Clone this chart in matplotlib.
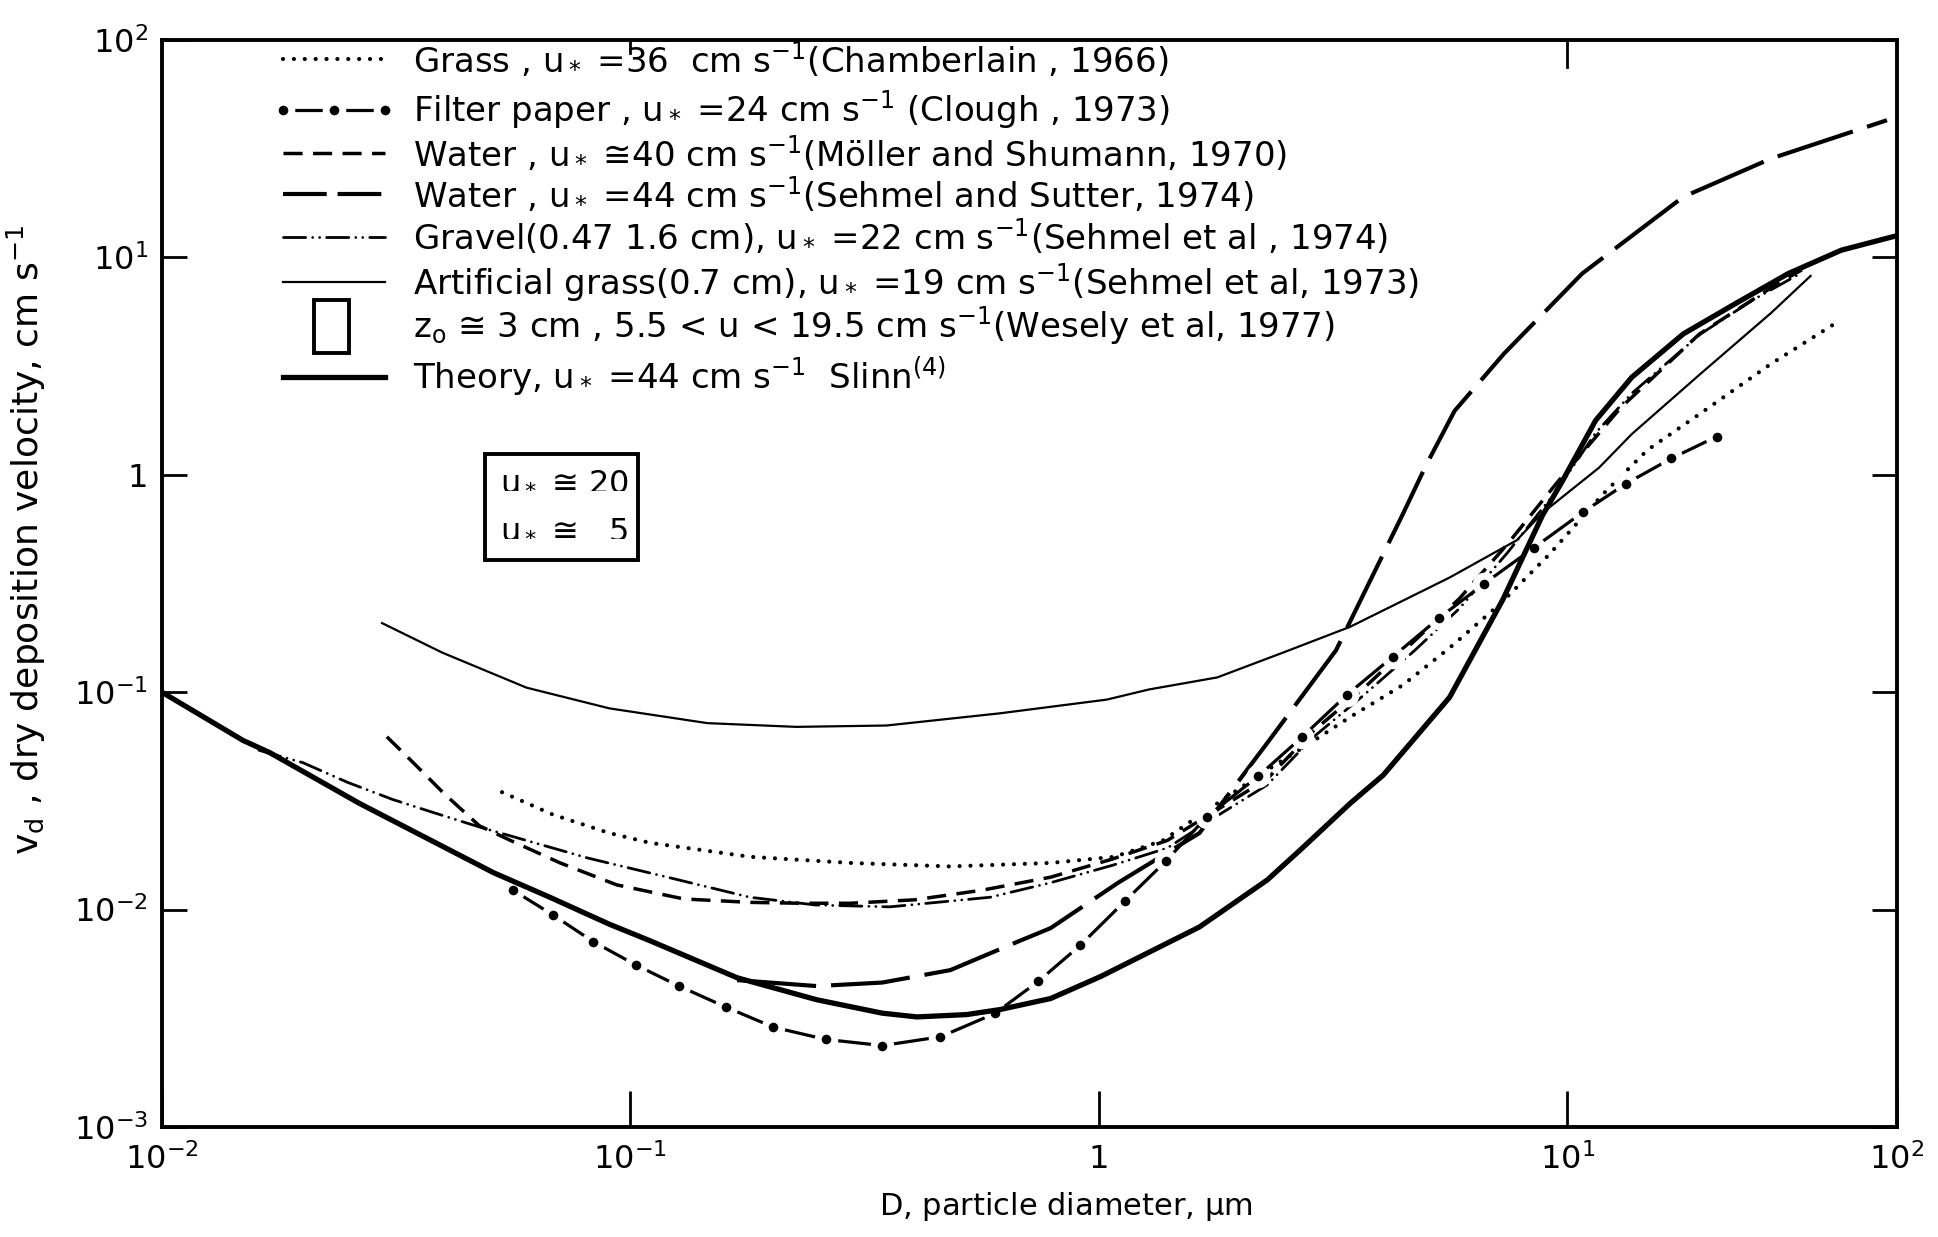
import numpy as np
import matplotlib
matplotlib.use('Agg')
import matplotlib.pyplot as plt
from matplotlib.patches import Rectangle
from matplotlib.ticker import FixedLocator, NullLocator
from matplotlib.transforms import blended_transform_factory

plt.rcParams['font.family'] = ['DejaVu Sans']
plt.rcParams['mathtext.default'] = 'regular'

# particle diameter (um) / deposition velocity (cm/s)
theory_d = [0.01, 0.0149, 0.017, 0.0264, 0.051, 0.0673, 0.0904, 0.110, 0.169, 0.250, 0.345, 0.409,
            0.522, 0.615, 0.789, 1.01, 1.64, 2.29, 2.72, 3.44, 4.05, 5.61, 7.29, 8.85, 9.70, 12.2,
            15.7, 22.5, 32.6, 46.8, 67.8, 100]
theory_v = [0.1, 0.060, 0.0527, 0.0308, 0.0148, 0.0114, 0.00855, 0.0072, 0.00486, 0.00385, 0.00334,
            0.00321, 0.00329, 0.00347, 0.0039, 0.00493, 0.00832, 0.0137, 0.0192, 0.0308, 0.0416,
            0.0948, 0.267, 0.649, 0.912, 1.78, 2.81, 4.45, 6.17, 8.43, 10.8, 12.6]

sehmel_d = [0.169, 0.250, 0.345, 0.482, 0.670, 0.789, 1.10, 1.64, 2.29, 3.21, 4.05, 4.46, 5.00,
            5.75, 7.33, 11.1, 22.5, 41.5, 93.3]
sehmel_v = [0.00474, 0.00445, 0.00462, 0.00527, 0.00711, 0.00822, 0.0133, 0.0225, 0.0585, 0.156,
            0.433, 0.661, 1.11, 1.97, 3.61, 8.43, 19.0, 28.5, 42.8]

filter_d = [0.0561, 0.0682, 0.0834, 0.103, 0.127, 0.160, 0.202, 0.261, 0.345, 0.459, 0.600, 0.743,
            0.912, 1.14, 1.39, 1.70, 2.19, 2.72, 3.39, 4.25, 5.32, 6.65, 8.49, 11.2, 15.1, 20.7, 28.4]
filter_v = [0.0123, 0.00948, 0.00711, 0.00555, 0.00445, 0.00356, 0.00288, 0.00253, 0.00237, 0.00260,
            0.00333, 0.00468, 0.00684, 0.0110, 0.0167, 0.0267, 0.0411, 0.0624, 0.0975, 0.146, 0.219,
            0.316, 0.462, 0.676, 0.912, 1.19, 1.50]

grass_d = [0.0532, 0.0682, 0.0902, 0.110, 0.180, 0.295, 0.482, 0.789, 1.08, 1.37, 1.79, 2.29, 2.83,
           3.44, 4.46, 5.61, 7.21, 9.18, 12.8, 17.5, 25.4, 41.5, 64.4]
grass_v = [0.0347, 0.0274, 0.0225, 0.0203, 0.0175, 0.0164, 0.0158, 0.0164, 0.0175, 0.0208, 0.0308,
           0.0439, 0.0585, 0.0769, 0.108, 0.160, 0.256, 0.433, 0.811, 1.30, 1.92, 3.24, 4.93]

moller_d = [0.0302, 0.0344, 0.0400, 0.0476, 0.0555, 0.0708, 0.0935, 0.130, 0.180, 0.230, 0.295, 0.405,
            0.565, 0.789, 1.07, 1.40, 1.79, 2.29, 2.86, 3.69, 4.73, 5.89, 7.46, 9.53, 14.5, 25.2,
            44.1, 51.5]
moller_v = [0.0624, 0.0474, 0.0342, 0.0243, 0.0208, 0.0164, 0.0130, 0.0112, 0.0108, 0.0107, 0.0107,
            0.0111, 0.0123, 0.0141, 0.0171, 0.0208, 0.0288, 0.0400, 0.0658, 0.105, 0.173, 0.270,
            0.481, 0.925, 2.03, 4.45, 7.69, 8.77]

gravel_d = [0.0161, 0.0200, 0.0249, 0.0311, 0.0385, 0.0476, 0.0600, 0.0809, 0.120, 0.180, 0.249,
            0.358, 0.586, 0.789, 1.07, 1.40, 1.79, 2.29, 2.86, 3.69, 4.73, 5.89, 7.46, 9.53, 12.2,
            15.7, 25.4, 36.8, 50.1]
gravel_v = [0.0541, 0.0474, 0.0385, 0.0321, 0.0277, 0.0240, 0.0208, 0.0173, 0.0141, 0.0114, 0.0105,
            0.0103, 0.0114, 0.0133, 0.0160, 0.0192, 0.0270, 0.0375, 0.0617, 0.0975, 0.156, 0.243,
            0.439, 0.855, 1.56, 2.37, 4.45, 6.41, 8.32]

artgrass_d = [0.0295, 0.0397, 0.0600, 0.0902, 0.146, 0.226, 0.352, 0.615, 1.04, 1.28, 1.79, 2.47,
              3.44, 5.61, 7.80, 8.85, 12.5, 15.7, 25.4, 41.5, 54.7]
artgrass_v = [0.208, 0.152, 0.105, 0.0843, 0.0721, 0.0693, 0.0703, 0.0800, 0.0925, 0.103, 0.117,
              0.152, 0.200, 0.337, 0.500, 0.667, 1.08, 1.54, 2.92, 5.55, 8.22]

# Wesely et al range box
box_d = [0.049, 0.104]
box_v = [0.405, 1.25]

x_ticks = [0.01, 0.1, 1, 10, 100]
x_labels = [r'$10^{-2}$', r'$10^{-1}$', '1', r'$10^{1}$', r'$10^{2}$']
y_ticks = [1e-3, 1e-2, 1e-1, 1, 10, 100]
y_labels = [r'$10^{-3}$', r'$10^{-2}$', r'$10^{-1}$', '1', r'$10^{1}$', r'$10^{2}$']
top_ticks = [0.1, 10]

legend_texts = [
    r'Grass , u$_*$ =36  cm s$^{-1}$(Chamberlain , 1966)',
    r'Filter paper , u$_*$ =24 cm s$^{-1}$ (Clough , 1973)',
    r'Water , u$_*$ ≅40 cm s$^{-1}$(Möller and Shumann, 1970)',
    r'Water , u$_*$ =44 cm s$^{-1}$(Sehmel and Sutter, 1974)',
    r'Gravel(0.47 1.6 cm), u$_*$ =22 cm s$^{-1}$(Sehmel et al , 1974)',
    r'Artificial grass(0.7 cm), u$_*$ =19 cm s$^{-1}$(Sehmel et al, 1973)',
    r'z$_o$ ≅ 3 cm , 5.5 < u < 19.5 cm s$^{-1}$(Wesely et al, 1977)',
    r'Theory, u$_*$ =44 cm s$^{-1}$  Slinn$^{(4)}$',
]


# last decade of the original axis is drawn shorter than the others
def fwd(x):
    lx = np.log10(np.maximum(x, 1e-12))
    return np.where(lx <= 1, lx, 1 + 0.704 * (lx - 1))


def inv(u):
    return np.where(u <= 1, 10.0 ** u, 10.0 ** (1 + (u - 1) / 0.704))


styles = {
    'grass': dict(color='k', lw=3, ls=(0, (0.01, 2.6)), dash_capstyle='round'),
    'moller': dict(color='k', lw=2.5, ls=(0, (5.5, 3)), dash_capstyle='butt'),
    'sehmel': dict(color='k', lw=3, ls=(0, (19, 3.6)), dash_capstyle='butt'),
    'gravel': dict(color='k', lw=2, ls=(0, (8, 2.5, 0.01, 2.5, 0.01, 2.5)), dash_capstyle='round'),
    'art': dict(color='k', lw=1.6, ls='-'),
    'theory': dict(color='k', lw=3.8, ls='-'),
}
filter_style = dict(color='k', lw=2.3, ls='-', marker='o', ms=12, mfc='k', mec='white', mew=5)

fig = plt.figure(figsize=(19.38, 12.37), dpi=100)
ax = fig.add_axes([0.0836, 0.0889, 0.8952, 0.8787])
ax.set_xscale('function', functions=(fwd, inv))
ax.set_yscale('log')

ax.plot(artgrass_d, artgrass_v, **styles['art'])
ax.plot(grass_d, grass_v, **styles['grass'])
ax.plot(moller_d, moller_v, **styles['moller'])
ax.plot(gravel_d, gravel_v, **styles['gravel'])
ax.plot(sehmel_d, sehmel_v, **styles['sehmel'])
ax.plot(filter_d, filter_v, **filter_style)
ax.plot(theory_d, theory_v, **styles['theory'])

ax.add_patch(Rectangle((box_d[0], box_v[0]), box_d[1] - box_d[0], box_v[1] - box_v[0],
                       fill=False, lw=2.8, ec='k'))
ax.text(0.0528, 0.95, r'u$_*$ ≅ 20', fontsize=23, va='center', ha='left')
ax.text(0.0528, 0.57, r'u$_*$ ≅   5', fontsize=23, va='center', ha='left')

# hand-made legend in axes fraction
rows_y = [0.9825, 0.9356, 0.896, 0.858, 0.819, 0.777, 0.737, 0.690]
x0, x1, xt = 0.0697, 0.1285, 0.1447
keys = ['grass', 'filter', 'moller', 'sehmel', 'gravel', 'art', 'box', 'theory']
for yy, key, txt in zip(rows_y, keys, legend_texts):
    if key == 'filter':
        ax.plot([x0, (x0 + x1) / 2, x1], [yy] * 3, transform=ax.transAxes, clip_on=False, **filter_style)
    elif key == 'box':
        ax.add_patch(Rectangle((0.0876, 0.712), 0.020, 0.049, transform=ax.transAxes,
                               fill=False, lw=2.8, ec='k'))
    elif key == 'sehmel':
        ax.plot([x0, x1], [yy, yy], transform=ax.transAxes, clip_on=False,
                color='k', lw=3, ls=(0, (10.5, 2.6)))
    else:
        ax.plot([x0, x1], [yy, yy], transform=ax.transAxes, clip_on=False, **styles[key])
    ax.text(xt, yy, txt, transform=ax.transAxes, fontsize=24.5, va='center', ha='left')

ax.set_xlim(0.01, 100)
ax.set_ylim(1e-3, 1e2)
ax.xaxis.set_major_locator(FixedLocator(x_ticks))
ax.xaxis.set_minor_locator(NullLocator())
ax.set_xticklabels(x_labels)
ax.yaxis.set_major_locator(FixedLocator(y_ticks))
ax.yaxis.set_minor_locator(NullLocator())
ax.set_yticklabels(y_labels)

ax.tick_params(axis='x', direction='in', length=26, width=2, labelsize=23, pad=12, top=False)
ax.tick_params(axis='y', direction='in', length=18, width=2, labelsize=23, pad=10, right=True)
for sp in ax.spines.values():
    sp.set_linewidth(2.8)

# the few ticks along the top edge, of different lengths
trans = blended_transform_factory(ax.transData, ax.transAxes)
ax.plot([top_ticks[0]] * 2, [1, 0.988], transform=trans, color='k', lw=2, clip_on=False)
ax.plot([top_ticks[1]] * 2, [1, 0.975], transform=trans, color='k', lw=2, clip_on=False)

ax.set_xlabel(r'D, particle diameter, $\mu$m', fontsize=22)
ax.xaxis.set_label_coords(0.521, -0.058)
ax.set_ylabel(r'v$_d$ , dry deposition velocity, cm s$^{-1}$', fontsize=26)
ax.yaxis.set_label_coords(-0.066, 0.54)

fig.savefig('out.png', dpi=100)
